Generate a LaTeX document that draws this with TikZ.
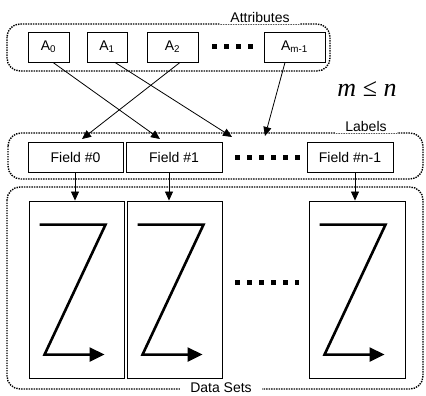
\documentclass[tikz,border=0pt]{standalone}
\usepackage{fontspec}
\setmainfont{Liberation Sans}
\newfontfamily\serifrm{Liberation Serif}
\usetikzlibrary{arrows.meta,calc}
\begin{document}
\begin{tikzpicture}[x=1pt,y=-1pt,
  font=\fontsize{14}{16}\selectfont,
  grp/.style={draw, line width=1.4pt, dash pattern=on 1.4pt off 1.1pt, rounded corners=13pt},
  grplabel/.style={fill=white, inner xsep=10pt, inner ysep=2pt},
  box/.style={draw, line width=0.9pt, inner sep=0pt},
  dotrow/.style={line width=5pt, dash pattern=on 5pt off 7pt},
  link/.style={line width=0.8pt, -{Triangle[length=9pt,width=8pt]}},
  zz/.style={line width=2.6pt, -{Triangle[length=15pt,width=14pt]}, miter limit=20}
]
\useasboundingbox (0,0) rectangle (426,396);

% group frames
\draw[grp] (7,24) rectangle (330,71);
\draw[grp] (8,133) rectangle (423,179);
\draw[grp] (7,187) rectangle (423,389);
\node[grplabel] (lattr) at (260,17) {Attributes};
\node[grplabel] (llab) at (366,126) {Labels};
\node[grplabel] (lds) at (221,388) {Data Sets};

% attributes
\node[box, minimum width=41pt, minimum height=30pt] (A0) at (48.5,47) {A\textsubscript{0}};
\node[box, minimum width=40pt, minimum height=30pt] (A1) at (107,47) {A\textsubscript{1}};
\node[box, minimum width=51pt, minimum height=30pt] (A2) at (172.5,47) {A\textsubscript{2}};
\node[box, minimum width=61pt, minimum height=30pt] (Am) at (294.5,47) {A\textsubscript{m-1}};
\coordinate (ad1) at (212,47);
\coordinate (ad2) at (258,47);
\draw[dotrow] (ad1) -- (ad2);

\node (mn) at (367,89) {\fontsize{26}{28}\selectfont\serifrm{\itshape m} ≤ {\itshape n}};

% labels
\node[box, minimum width=95pt, minimum height=30pt] (F0) at (75.5,157) {Field \#0};
\node[box, minimum width=96pt, minimum height=30pt] (F1) at (174,157) {Field \#1};
\node[box, minimum width=86pt, minimum height=30pt] (Fn) at (350,157) {Field \#n-1};
\coordinate (ld1) at (235,157);
\coordinate (ld2) at (300,157);
\draw[dotrow] (ld1) -- (ld2);

% attribute links
\coordinate (t0) at (160,139);
\coordinate (t1) at (232,137);
\coordinate (t2) at (82,139);
\coordinate (tm) at (265,136);
\draw[link] ($(A0.south)+(4.5,0)$) -- (t0);
\draw[link] ($(A1.south)+(8,0)$) -- (t1);
\draw[link] ($(A2.south)+(7.5,0)$) -- (t2);
\draw[link] ($(Am.south)+(-9.5,0)$) -- (tm);

% data sets
\node[box, minimum width=95pt, minimum height=177pt] (D0) at (76.5,289.5) {};
\node[box, minimum width=95pt, minimum height=177pt] (D1) at (174.5,289.5) {};
\node[box, minimum width=96pt, minimum height=177pt] (D2) at (357,289.5) {};
\coordinate (dd1) at (235,282);
\coordinate (dd2) at (299,282);
\draw[dotrow] (dd1) -- (dd2);

\draw[link] ([xshift=-0.5pt]F0.south) -- ([xshift=-0.5pt]F0.south |- D0.north);
\draw[link] ([xshift=-5pt]F1.south) -- ([xshift=-5pt]F1.south |- D1.north);
\draw[link] ([xshift=5pt]Fn.south) -- ([xshift=5pt]Fn.south |- D2.north);

\foreach \d in {D0,D1,D2}{
  \draw[zz, shift={(\d.north west)}] (11,24) -- (77,24) -- (16,154) -- (76,154);
}
\end{tikzpicture}
\end{document}
